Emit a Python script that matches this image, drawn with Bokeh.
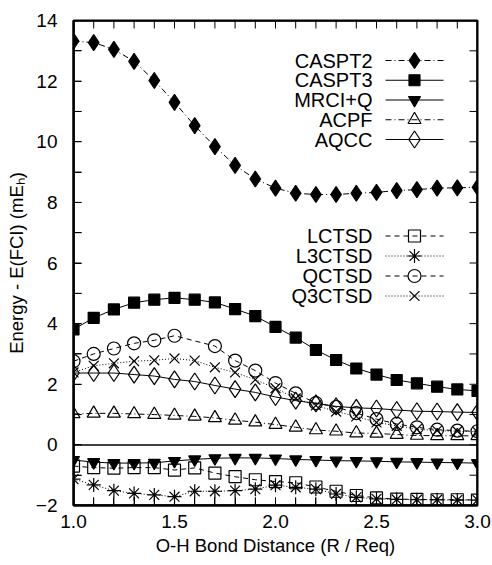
import numpy as np
from bokeh.plotting import figure
from bokeh.models import Range1d, FixedTicker, Label, Span, PrintfTickFormatter
from bokeh.embed import file_html
from bokeh.resources import INLINE

# O-H bond distance (R / R_eq)
bond = [1.0, 1.1, 1.2, 1.3, 1.4, 1.5, 1.6, 1.7, 1.8, 1.9, 2.0,
        2.1, 2.2, 2.3, 2.4, 2.5, 2.6, 2.7, 2.8, 2.9, 3.0]
# QCTSD has no point at 1.6
bond_qctsd = [1.0, 1.1, 1.2, 1.3, 1.4, 1.5, 1.7, 1.8, 1.9, 2.0,
              2.1, 2.2, 2.3, 2.4, 2.5, 2.6, 2.7, 2.8, 2.9, 3.0]

# Energy - E(FCI) in mEh
caspt2 = [13.32, 13.27, 13.05, 12.65, 12.02, 11.30, 10.53, 9.84, 9.22, 8.77, 8.47,
          8.30, 8.26, 8.26, 8.30, 8.33, 8.39, 8.42, 8.47, 8.48, 8.50]
caspt3 = [3.81, 4.19, 4.47, 4.69, 4.79, 4.85, 4.79, 4.70, 4.48, 4.25, 3.89,
          3.54, 3.13, 2.80, 2.52, 2.32, 2.14, 2.03, 1.92, 1.83, 1.78]
mrciq = [-0.50, -0.57, -0.60, -0.60, -0.59, -0.53, -0.48, -0.44, -0.43, -0.43, -0.45,
         -0.48, -0.50, -0.52, -0.53, -0.54, -0.56, -0.57, -0.58, -0.59, -0.60]
acpf = [1.02, 1.04, 1.04, 1.02, 1.00, 0.97, 0.94, 0.89, 0.81, 0.75, 0.67,
        0.58, 0.49, 0.45, 0.39, 0.38, 0.34, 0.31, 0.30, 0.30, 0.30]
aqcc = [2.37, 2.37, 2.37, 2.32, 2.27, 2.16, 2.09, 1.96, 1.84, 1.73, 1.58,
        1.46, 1.37, 1.27, 1.22, 1.20, 1.15, 1.11, 1.10, 1.08, 1.07]
lctsd = [-0.70, -0.75, -0.77, -0.75, -0.75, -0.83, -0.76, -0.93, -1.05, -1.15, -1.21,
         -1.25, -1.39, -1.53, -1.67, -1.75, -1.79, -1.80, -1.81, -1.81, -1.82]
l3ctsd = [-1.13, -1.32, -1.51, -1.60, -1.65, -1.71, -1.53, -1.53, -1.51, -1.46, -1.33,
          -1.40, -1.46, -1.62, -1.73, -1.78, -1.80, -1.81, -1.81, -1.82, -1.82]
qctsd = [2.76, 3.00, 3.18, 3.35, 3.45, 3.60, 3.26, 2.78, 2.45, 2.04,
         1.70, 1.38, 1.25, 1.05, 0.85, 0.69, 0.58, 0.50, 0.47, 0.45]
q3ctsd = [2.39, 2.61, 2.69, 2.76, 2.79, 2.85, 2.78, 2.56, 2.39, 2.15, 1.87,
          1.53, 1.30, 1.10, 0.94, 0.74, 0.63, 0.52, 0.47, 0.45, 0.43]

x_ticks = [1.0, 1.5, 2.0, 2.5, 3.0]
x_minor = [1.1, 1.2, 1.3, 1.4, 1.6, 1.7, 1.8, 1.9, 2.1, 2.2, 2.3, 2.4, 2.6, 2.7, 2.8, 2.9]
y_ticks = [-2, 0, 2, 4, 6, 8, 10, 12, 14]
y_minor = [-1, 1, 3, 5, 7, 9, 11, 13]

W, H = 492, 565
LEFT, RIGHT, TOP, BOTTOM = 73, 15, 20, 60
X0, X1, Y0, Y1 = 1.0, 3.0, -2.0, 14.0
TICK = 8

p = figure(width=W, height=H, x_range=Range1d(X0, X1), y_range=Range1d(Y0, Y1),
           output_backend="svg", toolbar_location=None,
           min_border_left=LEFT, min_border_right=RIGHT,
           min_border_top=TOP, min_border_bottom=BOTTOM)
# grids stay in place but blend into the white background
p.grid.grid_line_color = "white"
p.grid.minor_grid_line_color = None
p.outline_line_color = "black"
p.outline_line_width = 2

fw = W - LEFT - RIGHT
fh = H - TOP - BOTTOM
# pixel -> data helpers for the key
def dx(px):
    return X0 + (px - LEFT) * (X1 - X0) / fw
def dy(py):
    return Y1 - (py - TOP) * (Y1 - Y0) / fh

for ax in (p.xaxis[0], p.yaxis[0]):
    ax.major_tick_in = TICK
    ax.major_tick_out = 0
    ax.minor_tick_in = TICK
    ax.minor_tick_out = 0
    ax.axis_line_color = "black"
    ax.axis_line_width = 2
    ax.major_tick_line_color = "black"
    ax.minor_tick_line_color = "black"
    ax.major_label_text_font_size = "19px"
    ax.major_label_text_color = "black"
    ax.axis_label_text_font_size = "18.5px"
    ax.axis_label_text_font_style = "normal"
    ax.axis_label_text_color = "black"

p.xaxis.ticker = FixedTicker(ticks=x_ticks, minor_ticks=x_minor)
p.xaxis.formatter = PrintfTickFormatter(format="%.1f")
p.yaxis.ticker = FixedTicker(ticks=y_ticks, minor_ticks=y_minor)
p.xaxis.major_label_standoff = 9
p.yaxis.major_label_standoff = 16

# axis titles
p.xaxis.axis_label = "O-H Bond Distance (R / Req)"
p.xaxis.axis_label_standoff = 4
p.yaxis.axis_label = "Energy - E(FCI) (mE\u2095)"
p.yaxis.axis_label_standoff = 6

# two empty placeholder renderers at the bottom of the stack
p.line([], [], line_color="white")
p.line([], [], line_color="white")

# zero reference line
p.add_layout(Span(location=0, dimension="width", line_color="black", line_width=1.5))

DASHDOT = "6 3 1 3"
DASHED = "5 4"
DOTTED = "1 2"

series = [
    ("CASPT2", bond, caspt2, DASHDOT, "diamond", True, 16),
    ("CASPT3", bond, caspt3, "solid", "square", True, 11),
    ("MRCI+Q", bond, mrciq, "solid", "inverted_triangle", True, 12),
    ("ACPF", bond, acpf, DASHDOT, "triangle", False, 13),
    ("AQCC", bond, aqcc, "solid", "diamond", False, 17),
    ("LCTSD", bond, lctsd, DASHED, "square", False, 12),
    ("L3CTSD", bond, l3ctsd, DOTTED, "asterisk", False, 14),
    ("QCTSD", bond_qctsd, qctsd, DASHED, "circle", False, 13),
    ("Q3CTSD", bond, q3ctsd, DOTTED, "x", False, 14),
]

def draw(xs, ys, dash, marker, filled, size):
    p.line(xs, ys, line_color="black", line_width=1, line_dash=dash)
    p.scatter(xs, ys, marker=marker, size=size,
              line_color="black", line_width=1.2,
              fill_color="black" if filled else None)

for name, xs, ys, dash, marker, filled, size in series:
    draw(xs, ys, dash, marker, filled, size)

# key: text on the left, sample line with marker on the right
key_rows = [60, 79.75, 99.5, 119.25, 139, 235.5, 255.5, 275.5, 295.5]
for (name, xs, ys, dash, marker, filled, size), row in zip(series, key_rows):
    ky = dy(row)
    p.line([dx(385), dx(443)], [ky, ky], line_color="black", line_width=1, line_dash=dash)
    p.scatter([dx(414)], [ky], marker=marker, size=size,
              line_color="black", line_width=1.2,
              fill_color="black" if filled else None)
    p.add_layout(Label(x=dx(372), y=ky, text=name, text_align="right",
                       text_baseline="middle",
                       text_font_size="20px", text_color="black"))

# frame box and inward tick marks on all four sides, drawn on top of the data
tick_dx = TICK * (X1 - X0) / fw
tick_dy = TICK * (Y1 - Y0) / fh
p.line([X0, X1, X1, X0, X0], [Y0, Y0, Y1, Y1, Y0], line_color="black",
       line_width=2.5, line_dash="solid")
tx, ty = [], []
for t in x_ticks + x_minor:
    tx += [t, t, np.nan, t, t, np.nan]
    ty += [Y0, Y0 + tick_dy, np.nan, Y1, Y1 - tick_dy, np.nan]
for t in y_ticks + y_minor:
    tx += [X0, X0 + tick_dx, np.nan, X1, X1 - tick_dx, np.nan]
    ty += [t, t, np.nan, t, t, np.nan]
p.line(tx, ty, line_color="black", line_width=1, line_dash="solid")

open("out.html", "w").write(file_html(p, INLINE))
